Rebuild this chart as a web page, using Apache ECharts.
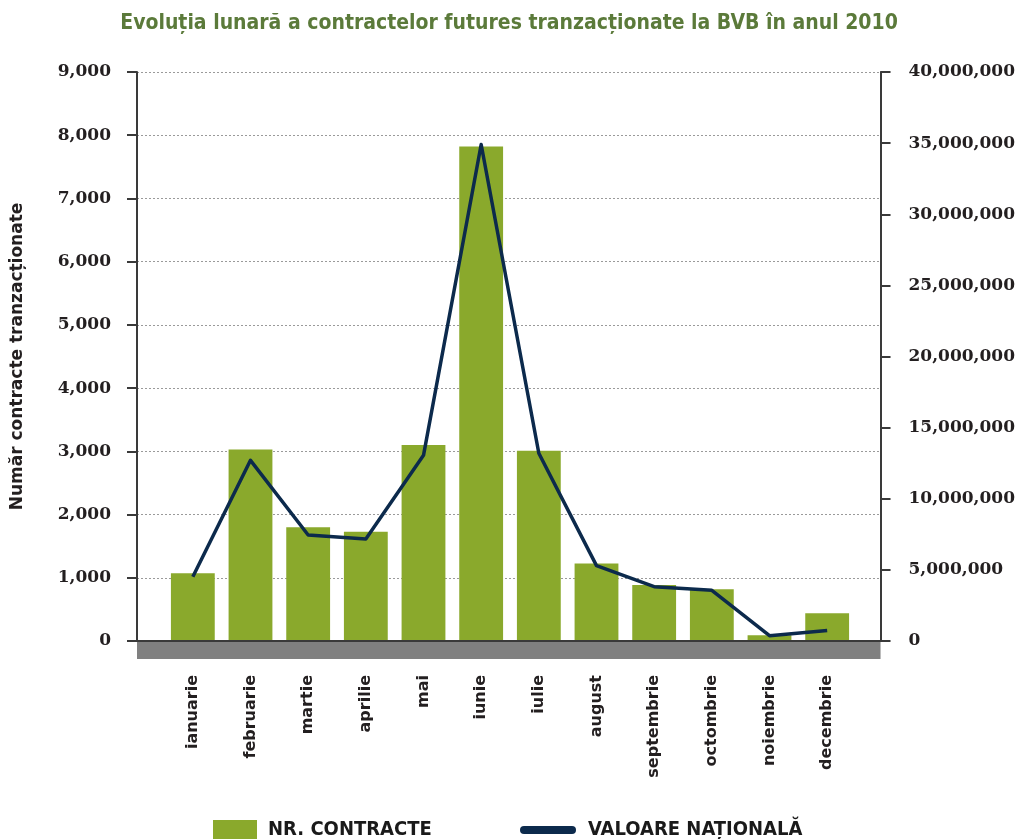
<!DOCTYPE html>
<html>
<head>
<meta charset="utf-8">
<script src="https://cdn.jsdelivr.net/npm/echarts@6/dist/echarts.min.js"></script>
<style>
  html, body { margin: 0; padding: 0; background: #fff; }
  #chart { width: 1018px; height: 839px; }
</style>
</head>
<body>
<div id="chart"></div>
<script>
const titleText = 'Evoluția lunară a contractelor futures tranzacționate la BVB în anul 2010';
const yLeftName = 'Număr contracte tranzacționate';
const months = ['ianuarie','februarie','martie','aprilie','mai','iunie','iulie','august','septembrie','octombrie','noiembrie','decembrie'];
const contracts = [1070, 3030, 1800, 1730, 3100, 7820, 3010, 1225, 885, 820, 90, 440];
const notional = [4520000, 12700000, 7450000, 7170000, 13050000, 34900000, 13200000, 5300000, 3820000, 3560000, 370000, 740000];
const seriesNames = ['NR. CONTRACTE', 'VALOARE NAȚIONALĂ'];
const leftMax = 9000, leftStep = 1000;
const rightMax = 40000000, rightStep = 5000000;

const green = '#8aa92c';
const navy = '#0c2a4c';
const axisColor = '#3a3a3a';
const numFont = 'DejaVu Serif';
const sansFont = 'DejaVu Sans';
const condFont = 'DejaVu Sans Condensed';
const fmt = v => Number(v).toLocaleString('en-US');

const chart = echarts.init(document.getElementById('chart'), null, { renderer: 'canvas' });
chart.setOption({
  animation: false,
  backgroundColor: '#ffffff',
  title: {
    text: titleText,
    left: 'center',
    top: 8,
    textStyle: { fontFamily: condFont, fontWeight: 'bold', fontSize: 21, color: '#5b7a3a' }
  },
  legend: [
    {
      data: [{ name: seriesNames[0], icon: 'rect' }],
      left: 213, top: 820, padding: 0,
      itemWidth: 44, itemHeight: 20, itemGap: 10,
      textStyle: { fontFamily: condFont, fontWeight: 'bold', fontSize: 20, color: '#1a1a1a', padding: [0, 0, 0, 6] }
    },
    {
      data: [{ name: seriesNames[1], icon: 'path://M4,0 L52,0 A4,4 0 0 1 52,8 L4,8 A4,4 0 0 1 4,0 Z' }],
      left: 520, top: 820, padding: 0,
      itemWidth: 56, itemHeight: 20, itemGap: 10,
      textStyle: { fontFamily: condFont, fontWeight: 'bold', fontSize: 20, color: '#1a1a1a', padding: [0, 0, 0, 7] }
    }
  ],
  grid: [
    { left: 137, right: 136, top: 72, bottom: 198, containLabel: false },
    { left: 164, right: 162, top: 72, bottom: 198, containLabel: false }
  ],
  xAxis: [
    {
      gridIndex: 0, type: 'category', data: months, z: 3,
      axisLine: { show: true, onZero: false, lineStyle: { color: axisColor, width: 2 } },
      axisTick: { show: false }, axisLabel: { show: false }, splitLine: { show: false }
    },
    {
      gridIndex: 0, type: 'category', data: months, position: 'bottom', offset: 9.5, z: 1,
      axisLine: { show: true, onZero: false, lineStyle: { color: '#808080', width: 17, cap: 'butt' } },
      axisTick: { show: false }, axisLabel: { show: false }, splitLine: { show: false }
    },
    {
      gridIndex: 1, type: 'category', data: months,
      axisLine: { show: false }, axisTick: { show: false },
      axisLabel: {
        rotate: 90, margin: 34, interval: 0,
        fontFamily: sansFont, fontWeight: 'bold', fontSize: 16, color: '#231f20'
      }
    }
  ],
  yAxis: [
    {
      gridIndex: 0, type: 'value', min: 0, max: leftMax, interval: leftStep,
      position: 'left',
      name: yLeftName, nameLocation: 'middle', nameGap: 111, nameRotate: 90,
      nameTextStyle: { fontFamily: sansFont, fontWeight: 'bold', fontSize: 17, color: '#231f20' },
      axisLine: { show: true, lineStyle: { color: axisColor, width: 2 } },
      axisTick: { show: true, inside: false, length: 10, lineStyle: { color: axisColor, width: 2 } },
      axisLabel: { formatter: fmt, margin: 26, fontFamily: numFont, fontWeight: 'bold', fontSize: 17, color: '#231f20' },
      splitLine: { show: true, lineStyle: { color: '#9a9a9a', type: [2, 2], width: 1 } }
    },
    {
      gridIndex: 0, type: 'value', min: 0, max: rightMax, interval: rightStep,
      position: 'right',
      axisLine: { show: true, lineStyle: { color: axisColor, width: 2 } },
      axisTick: { show: true, inside: false, length: 10, lineStyle: { color: axisColor, width: 2 } },
      axisLabel: { formatter: fmt, margin: 28, fontFamily: numFont, fontWeight: 'bold', fontSize: 17, color: '#231f20' },
      splitLine: { show: false }
    },
    {
      gridIndex: 1, type: 'value', min: 0, max: leftMax, interval: leftStep, show: false
    },
    {
      gridIndex: 1, type: 'value', min: 0, max: rightMax, interval: rightStep, show: false
    }
  ],
  series: [
    {
      name: seriesNames[0], type: 'bar', xAxisIndex: 2, yAxisIndex: 2,
      data: contracts, barCategoryGap: '24%',
      itemStyle: { color: green }
    },
    {
      name: seriesNames[1], type: 'line', xAxisIndex: 2, yAxisIndex: 3,
      data: notional, symbol: 'none', z: 5,
      lineStyle: { color: navy, width: 3.5, join: 'round' },
      itemStyle: { color: navy }
    }
  ]
});
</script>
</body>
</html>
